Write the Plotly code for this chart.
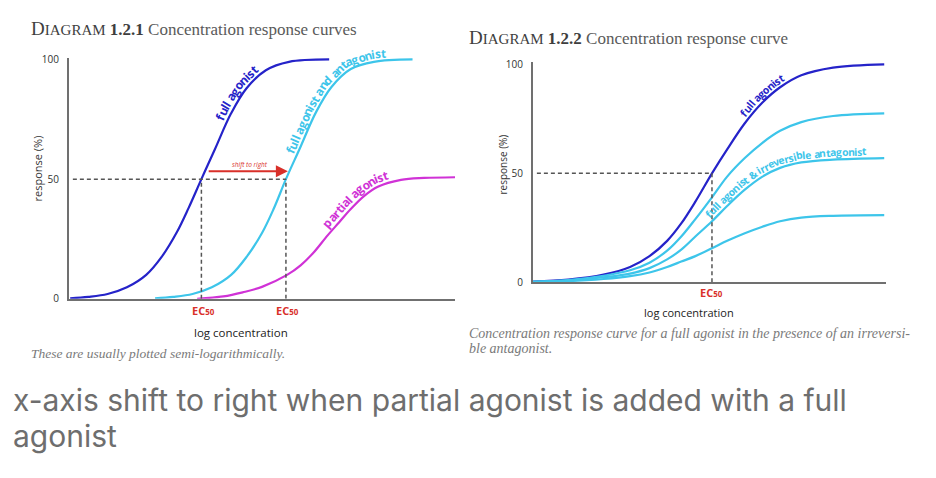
import math
import numpy as np
import plotly.graph_objects as go

W, H = 936, 478

# ---------------- data ----------------
# x: log concentration (arbitrary units, 0-100 across each axis); y: response (%)
# Diagram 1.2.1
left_full_x = [0.3, 5.0, 10.0, 15.0, 20.0, 24.0, 28.0, 31.0, 34.3, 37.8, 42.0, 46.0, 51.0, 57.0, 67.4]
left_full_y = [0.2, 0.8, 2.0, 4.8, 10.0, 17.5, 28.0, 38.0, 50.0, 62.5, 77.5, 88.0, 95.5, 99.0, 100.0]
left_anta_x = [22.3, 27.0, 32.0, 37.0, 42.0, 46.0, 50.0, 53.0, 56.2, 59.7, 64.0, 68.0, 73.0, 79.0, 89.0]
left_anta_y = [0.2, 0.8, 2.0, 4.8, 10.0, 17.5, 27.5, 37.5, 50.0, 62.5, 78.0, 88.5, 96.0, 99.0, 100.0]
left_part_x = [33.2, 40.0, 45.0, 50.0, 56.5, 60.0, 63.2, 67.0, 70.0, 73.0, 76.5, 80.0, 86.0, 92.0, 100.0]
left_part_y = [0.0, 1.0, 2.7, 5.0, 10.0, 14.0, 19.0, 26.5, 32.0, 37.5, 43.0, 46.8, 49.7, 50.5, 50.8]
left_ec50 = [34.3, 56.2]

# Diagram 1.2.2
right_x = [0.0, 10.0, 20.0, 27.5, 33.0, 38.0, 42.0, 46.0, 50.7, 55.0, 60.0, 65.0, 70.0, 76.0, 85.0, 99.5]
right_full_y = [0.3, 1.2, 3.5, 7.0, 12.0, 19.0, 27.0, 37.0, 50.0, 61.0, 73.0, 82.5, 89.5, 95.0, 98.5, 100.0]
right_irr1_y = [0.2, 1.0, 3.0, 5.5, 9.0, 14.5, 21.0, 29.0, 39.0, 48.5, 57.0, 64.0, 69.5, 73.5, 76.3, 77.5]
right_irr2_y = [0.2, 0.8, 2.3, 4.0, 6.5, 10.5, 15.0, 21.0, 28.0, 35.0, 42.5, 48.5, 52.5, 55.0, 56.3, 57.0]
right_irr3_y = [0.1, 0.5, 1.5, 2.8, 4.5, 7.0, 9.5, 12.0, 15.6, 19.0, 22.5, 25.5, 28.0, 29.7, 30.5, 30.8]
right_ec50 = [50.7]

y_ticks = [0, 50, 100]
half_response = 50
arrow_y = 53.3

# ---------------- styles ----------------
BLUE = "#2523c9"
CYAN = "#3dc5ea"
MAGENTA = "#d032d6"
RED = "#d9302a"
AXIS = "#707070"
DASH = "#555555"
SANS = "Open Sans"
SERIF = "Liberation Serif"

# axis geometry (pixels)
L_X0, L_X1, L_YB, L_YT, L_YMAX = 69, 455, 301, 53, 100.8
R_X0, R_X1, R_YB, R_YT, R_YMAX = 533, 886, 284, 58, 100.9


def map_left(xd, yd):
    xd, yd = np.asarray(xd, float), np.asarray(yd, float)
    return L_X0 + xd * (L_X1 - L_X0) / 100, L_YB - yd * (L_YB - L_YT) / L_YMAX


def map_right(xd, yd):
    xd, yd = np.asarray(xd, float), np.asarray(yd, float)
    return R_X0 + xd * (R_X1 - R_X0) / 100, R_YB - yd * (R_YB - R_YT) / R_YMAX


def px(x, y):
    return x / W, 1 - y / H


fig = go.Figure()


def curve(x, y, color, xa, ya):
    fig.add_trace(go.Scatter(
        x=x, y=y, mode="lines", xaxis=xa, yaxis=ya, hoverinfo="skip",
        line=dict(color=color, width=2.2, shape="spline", smoothing=1.0)))


curve(left_full_x, left_full_y, BLUE, "x", "y")
curve(left_anta_x, left_anta_y, CYAN, "x", "y")
curve(left_part_x, left_part_y, MAGENTA, "x", "y")
curve(right_x, right_full_y, BLUE, "x2", "y2")
curve(right_x, right_irr1_y, CYAN, "x2", "y2")
curve(right_x, right_irr2_y, CYAN, "x2", "y2")
curve(right_x, right_irr3_y, CYAN, "x2", "y2")

shapes = []
dash_line = dict(color=DASH, width=1.5, dash="4px,3px")
shapes.append(dict(type="line", xref="x", yref="y", x0=1.0, x1=max(left_ec50),
                   y0=half_response, y1=half_response, line=dash_line))
for e in left_ec50:
    shapes.append(dict(type="line", xref="x", yref="y", x0=e, x1=e,
                       y0=0, y1=half_response, line=dash_line))
shapes.append(dict(type="line", xref="x2", yref="y2", x0=1.1, x1=right_ec50[0],
                   y0=half_response, y1=half_response, line=dash_line))
shapes.append(dict(type="line", xref="x2", yref="y2", x0=right_ec50[0], x1=right_ec50[0],
                   y0=0, y1=half_response, line=dash_line))

ann = []


def text(x, y, s, size, color, family=SANS, angle=0, xanchor="center", yanchor="middle"):
    X, Y = px(x, y)
    ann.append(dict(x=X, y=Y, xref="paper", yref="paper", text=s, showarrow=False,
                    textangle=angle, xanchor=xanchor, yanchor=yanchor, borderpad=0,
                    font=dict(size=size, color=color, family=family)))


# approximate advance widths (em) of Open Sans Bold glyphs, for text along curves
GLYPH_W = {" ": 0.26, "a": 0.579, "b": 0.613, "d": 0.613, "e": 0.579, "f": 0.379,
           "g": 0.544, "i": 0.278, "l": 0.278, "n": 0.617, "o": 0.603, "p": 0.613,
           "r": 0.427, "s": 0.486, "t": 0.408, "u": 0.617, "v": 0.535, "&": 0.735}


def curved_label(phrase, cx, cy, mapper, x_start, size, color, d):
    """Place the phrase character by character along a path offset d px above the curve."""
    xs = np.linspace(cx[0], cx[-1], 1200)
    X, Y = mapper(xs, np.interp(xs, cx, cy))
    TX, TY = np.gradient(X), np.gradient(Y)
    LN = np.hypot(TX, TY)
    OX, OY = X + d * TY / LN, Y - d * TX / LN          # offset path (upper-left side)
    s = np.concatenate([[0.0], np.cumsum(np.hypot(np.diff(OX), np.diff(OY)))])
    pos = float(np.interp(x_start, xs, s))
    for ch in phrase:
        w = GLYPH_W.get(ch, 0.55) * size
        sc = pos + w / 2
        pos += w
        if ch == " ":
            continue
        x0, y0 = np.interp(sc, s, OX), np.interp(sc, s, OY)
        tx = np.interp(sc + 3, s, OX) - np.interp(sc - 3, s, OX)
        ty = np.interp(sc + 3, s, OY) - np.interp(sc - 3, s, OY)
        ang = math.degrees(math.atan2(ty, tx))
        t = "&amp;" if ch == "&" else ch
        text(x0, y0, f"<b>{t}</b>", size, color, angle=ang)


# titles
text(30, 23, "<span style='font-size:19px'>D</span><span style='font-size:15px'>IAGRAM</span> "
     "<b>1.2.1</b> <span style='color:#5a5a5a'>Concentration response curves</span>",
     17, "#3e3e3e", SERIF, xanchor="left")
text(468, 32, "<span style='font-size:19px'>D</span><span style='font-size:15px'>IAGRAM</span> "
     "<b>1.2.2</b> <span style='color:#5a5a5a'>Concentration response curve</span>",
     17, "#3e3e3e", SERIF, xanchor="left")

# captions
text(30, 357, "<i>These are usually plotted semi-logarithmically.</i>", 13.5, "#7a7a7a", SERIF,
     xanchor="left")
text(468, 337, "<i>Concentration response curve for a full agonist in the presence of an irreversi-</i>",
     14, "#7a7a7a", SERIF, xanchor="left")
text(468, 352, "<i>ble antagonist.</i>", 14, "#7a7a7a", SERIF, xanchor="left")

# bottom text
text(12, 405, "x-axis shift to right when partial agonist is added with a full", 30, "#6e6e6e",
     "Inter", xanchor="left")
text(12, 442, "agonist", 30, "#6e6e6e", "Inter", xanchor="left")

# axis titles
text(37, 167, "response (%)", 11, "#333333", angle=-90)
text(503, 163, "response (%)", 10, "#333333", angle=-90)
text(241, 336, "log concentration", 11.5, "#222222")
text(689, 315, "log concentration", 11, "#222222")

# EC50 labels at the EC50 x values
for e in left_ec50:
    ann.append(dict(x=e, y=px(0, 313)[1], xref="x", yref="paper", showarrow=False, xshift=2,
                    text="<b>EC<span style='font-size:8px'>50</span></b>",
                    font=dict(size=11, color=RED, family=SANS), xanchor="center", yanchor="middle"))
ann.append(dict(x=right_ec50[0], y=px(0, 294)[1], xref="x2", yref="paper", showarrow=False,
                text="<b>EC<span style='font-size:8px'>50</span></b>",
                font=dict(size=11, color=RED, family=SANS), xanchor="center", yanchor="middle"))

# shift arrow
ann.append(dict(x=left_ec50[1] + 0.5, y=arrow_y, ax=left_ec50[0] + 1.5, ay=arrow_y,
                xref="x", yref="y", axref="x", ayref="y", text="", showarrow=True,
                arrowhead=2, arrowsize=1.2, arrowwidth=2, arrowcolor=RED, standoff=0))
text(250, 163, "<i>shift to right</i>", 6.5, RED)

# labels along the curves
curved_label("full agonist", left_full_x, left_full_y, map_left, 41.0, 12, BLUE, 8.5)
curved_label("full agonist and antagonist", left_anta_x, left_anta_y, map_left, 59.0, 11.8, CYAN, 8.5)
curved_label("partial agonist", left_part_x, left_part_y, map_left, 68.0, 12, MAGENTA, 8.5)
curved_label("full agonist", right_x, right_full_y, map_right, 61.0, 10.5, BLUE, 7.5)
curved_label("full agonist & irreversible antagonist", right_x, right_irr2_y, map_right, 51.0,
             10.3, CYAN, 7.5)

common_x = dict(showline=True, linecolor=AXIS, linewidth=2, showticklabels=False,
                showgrid=False, zeroline=False, ticks="", fixedrange=True)
common_y = dict(showline=True, linecolor=AXIS, linewidth=2, showgrid=False, zeroline=False,
                ticks="", tickvals=y_ticks, ticklabelstandoff=6, fixedrange=True,
                tickfont=dict(size=10, color="#333333", family=SANS))

fig.update_layout(
    width=W, height=H, margin=dict(l=0, r=0, t=0, b=0), showlegend=False,
    paper_bgcolor="white", plot_bgcolor="rgba(0,0,0,0)",
    xaxis=dict(domain=[L_X0 / W, L_X1 / W], range=[0, 100], anchor="y", **common_x),
    yaxis=dict(domain=[1 - L_YB / H, 1 - L_YT / H], range=[0, L_YMAX], anchor="x", **common_y),
    xaxis2=dict(domain=[R_X0 / W, R_X1 / W], range=[0, 100], anchor="y2", **common_x),
    yaxis2=dict(domain=[1 - R_YB / H, 1 - R_YT / H], range=[0, R_YMAX], anchor="x2", **common_y),
    shapes=shapes, annotations=ann,
)

fig.write_html("out.html")
